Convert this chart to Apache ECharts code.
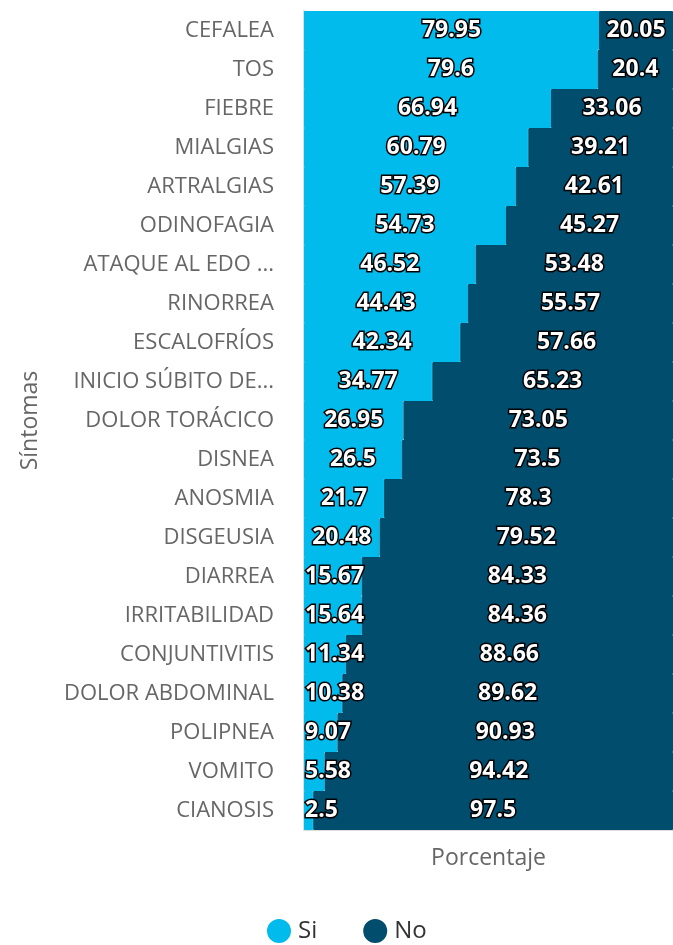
<!DOCTYPE html>
<html><head><meta charset="utf-8">
<script src="https://cdn.jsdelivr.net/npm/echarts@6/dist/echarts.min.js"></script>
<style>html,body{margin:0;padding:0;background:#fff}#c{width:673px;height:945px}</style>
</head><body><div id="c"></div>
<script>
const categories = ["CEFALEA","TOS","FIEBRE","MIALGIAS","ARTRALGIAS","ODINOFAGIA","ATAQUE AL EDO ...","RINORREA","ESCALOFRÍOS","INICIO SÚBITO DE...","DOLOR TORÁCICO","DISNEA","ANOSMIA","DISGEUSIA","DIARREA","IRRITABILIDAD","CONJUNTIVITIS","DOLOR ABDOMINAL","POLIPNEA","VOMITO","CIANOSIS"];
const siValues = [79.95,79.6,66.94,60.79,57.39,54.73,46.52,44.43,42.34,34.77,26.95,26.5,21.7,20.48,15.67,15.64,11.34,10.38,9.07,5.58,2.5];
const noValues = [20.05,20.4,33.06,39.21,42.61,45.27,53.48,55.57,57.66,65.23,73.05,73.5,78.3,79.52,84.33,84.36,88.66,89.62,90.93,94.42,97.5];

const font = "'Open Sans', 'Noto Sans', sans-serif";
const labelBase = {show:true, color:'#fff', fontFamily:font, fontWeight:'bold', fontSize:23, textBorderColor:'#000', textBorderWidth:3};
const siData = siValues.map(v => v < 18 ? {value:v, label:{position:'insideLeft', distance:1}} : v);

const chart = echarts.init(document.getElementById('c'));
chart.setOption({
  animation:false,
  grid:{left:304, right:0, top:11, bottom:115, containLabel:false},
  legend:{top:914, left:262, icon:'circle', itemWidth:22, itemHeight:22, itemGap:46,
    textStyle:{fontFamily:font, fontSize:24, color:'#333', padding:[0,0,0,3]}, data:['Si','No']},
  xAxis:{type:'value', min:0, max:100, axisLabel:{show:false}, splitLine:{show:false}, axisTick:{show:false},
    axisLine:{show:true, lineStyle:{color:'#ddd'}},
    name:'Porcentaje', nameLocation:'middle', nameGap:17, nameTextStyle:{fontFamily:font, fontSize:23, color:'#666'}},
  yAxis:{type:'category', inverse:true, data:categories, axisTick:{show:false}, splitLine:{show:false},
    axisLine:{show:true, lineStyle:{color:'#ddd', width:2}},
    axisLabel:{fontFamily:font, fontSize:22, color:'#666', margin:30},
    name:'Síntomas', nameLocation:'middle', nameGap:262, nameRotate:90, nameTextStyle:{fontFamily:font, fontSize:23, color:'#666'}},
  series:[
    {name:'Si', type:'bar', stack:'t', data:siData, barCategoryGap:0, barGap:0, itemStyle:{color:'#00BBEC', borderColor:'#00BBEC', borderWidth:1}, label:Object.assign({position:'inside'}, labelBase)},
    {name:'No', type:'bar', stack:'t', data:noValues, barCategoryGap:0, barGap:0, itemStyle:{color:'#004D6E', borderColor:'#004D6E', borderWidth:1}, label:Object.assign({position:'inside'}, labelBase)}
  ]
});
</script></body></html>
